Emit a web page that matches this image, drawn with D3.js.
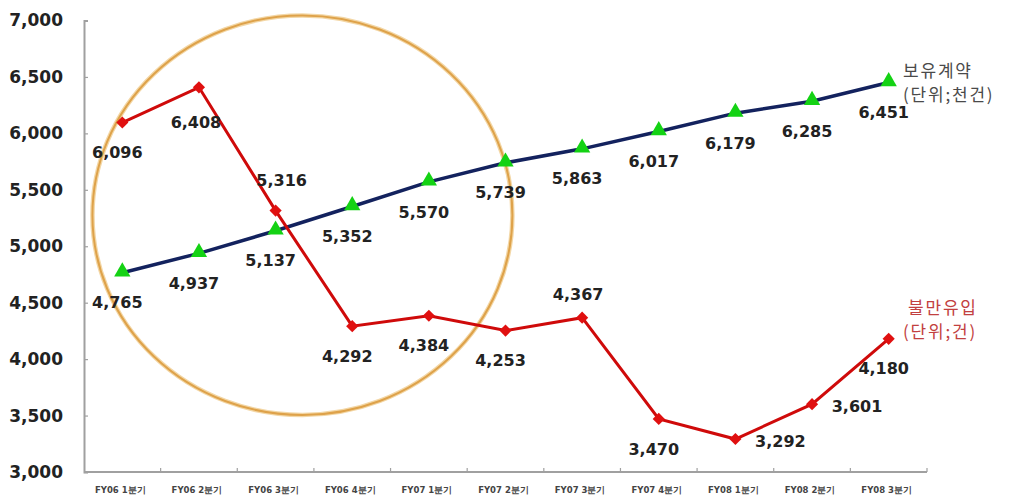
<!DOCTYPE html>
<html><head><meta charset="utf-8">
<script src="https://cdn.jsdelivr.net/npm/d3@7/dist/d3.min.js"></script>
<style>body{margin:0;background:#fff}svg{display:block}</style>
</head><body>
<svg id="c" width="1014" height="502"></svg>
<script>
const categories = ["FY06 1분기","FY06 2분기","FY06 3분기","FY06 4분기","FY07 1분기","FY07 2분기","FY07 3분기","FY07 4분기","FY08 1분기","FY08 2분기","FY08 3분기"];
const contracts = [4765,4937,5137,5352,5570,5739,5863,6017,6179,6285,6451];
const complaints = [6096,6408,5316,4292,4384,4253,4367,3470,3292,3601,4180];
const contractLabelPos = ["below","below","below","below","below","below","below","below","below","below","below"];
const complaintLabelPos = ["below","belowFar","above","below","below","below","aboveNear","below","right","right","below"];
const yTicks = [3000,3500,4000,4500,5000,5500,6000,6500,7000];
const legendContracts = ["보유계약","(단위;천건)"];
const legendComplaints = ["불만유입","(단위;건)"];

const svg = d3.select("#c");
const x = d3.scaleBand().domain(categories).range([84, 927]);
const bw = x.bandwidth();
const cx = c => x(c) + bw/2;
const y = d3.scaleLinear().domain([3000,7000]).range([472, 20.5]);
const fmt = d3.format(",");

// axes
const yAxis = svg.append("g").attr("transform","translate(84,0)")
  .call(d3.axisRight(y).tickValues(yTicks).tickSize(4).tickFormat(""));
yAxis.select(".domain").attr("stroke","#a0a0a0").attr("stroke-width",2);
yAxis.selectAll(".tick line").attr("stroke","#a0a0a0").attr("stroke-width",1.2);

svg.append("g").selectAll("text").data(yTicks).join("text")
  .attr("x",63).attr("y",d=>y(d)).attr("dy","0.35em").attr("text-anchor","end")
  .attr("font-family","DejaVu Sans").attr("font-weight","bold").attr("font-size",17)
  .attr("fill","#222").text(fmt);

const xAxisG = svg.append("g").attr("transform","translate(0,472)");
xAxisG.append("line").attr("x1",84).attr("x2",927).attr("stroke","#a0a0a0").attr("stroke-width",2);
xAxisG.selectAll("line.t").data(categories).join("line").attr("class","t")
  .attr("x1",d=>x(d)+bw).attr("x2",d=>x(d)+bw).attr("y1",0).attr("y2",-4)
  .attr("stroke","#a0a0a0").attr("stroke-width",1.2);
xAxisG.selectAll("text").data(categories).join("text")
  .attr("x",d=>cx(d)-2).attr("y",21).attr("text-anchor","middle")
  .attr("font-family","DejaVu Sans").attr("font-weight","bold").attr("font-size",8.5)
  .attr("fill","#444").text(d=>d);

// annotation ellipse (in data units)
const xi = d3.scaleLinear().domain([0,10]).range([cx(categories[0]), cx(categories[10])]);
const eCx = xi(2.35), eCy = y(5275), eRx = xi(2.74)-xi(0), eRy = y(3000)-y(4770);
svg.append("ellipse").attr("cx",eCx).attr("cy",eCy).attr("rx",eRx).attr("ry",eRy)
  .attr("fill","none").attr("stroke","#f3d7a6").attr("stroke-width",4.5);
svg.append("ellipse").attr("cx",eCx).attr("cy",eCy).attr("rx",eRx).attr("ry",eRy)
  .attr("fill","none").attr("stroke","#dea24a").attr("stroke-width",2);

const line = d3.line().x((d,i)=>cx(categories[i])).y(d=>y(d));

// contracts series
svg.append("path").datum(contracts).attr("d",line).attr("fill","none")
  .attr("stroke","#13225e").attr("stroke-width",3.5);
svg.append("g").selectAll("path").data(contracts).join("path")
  .attr("transform",(d,i)=>`translate(${cx(categories[i])},${y(d)-1})`)
  .attr("d",d3.symbol(d3.symbolTriangle,115)).attr("fill","#14d214");

// complaints series
svg.append("path").datum(complaints).attr("d",line).attr("fill","none")
  .attr("stroke","#cf0a0a").attr("stroke-width",3);
svg.append("g").selectAll("path").data(complaints).join("path")
  .attr("transform",(d,i)=>`translate(${cx(categories[i])},${y(d)}) rotate(45)`)
  .attr("d",d3.symbol(d3.symbolSquare,74)).attr("fill","#e01010");

const off = {below:[-5,30], belowFar:[-3,35], above:[6,-30], aboveNear:[-4,-23], right:[45,2]};
function labels(data,pos){
  svg.append("g").selectAll("text").data(data).join("text")
    .attr("x",(d,i)=>cx(categories[i])+off[pos[i]][0])
    .attr("y",(d,i)=>y(d)+off[pos[i]][1]).attr("dy","0.35em").attr("text-anchor","middle")
    .attr("font-family","DejaVu Sans").attr("font-weight","bold").attr("font-size",16)
    .attr("fill","#222").text(fmt);
}
labels(contracts, contractLabelPos);
labels(complaints, complaintLabelPos);

// legend texts
svg.append("g").selectAll("text").data(legendContracts).join("text")
  .attr("x",903).attr("y",(d,i)=>y(6451)-11+i*24).attr("dy","0.35em")
  .attr("font-family","Noto Sans CJK KR").attr("font-size",17).attr("letter-spacing",1.8)
  .attr("fill","#4a4a4a").text(d=>d);
svg.append("g").selectAll("text").data(legendComplaints).join("text")
  .attr("x",(d,i)=>i===0?908:903).attr("y",(d,i)=>y(4180)-31+i*24).attr("dy","0.35em")
  .attr("font-family","Noto Sans CJK KR").attr("font-size",17).attr("letter-spacing",1.8)
  .attr("fill","#c24040").text(d=>d);
</script>
</body></html>
